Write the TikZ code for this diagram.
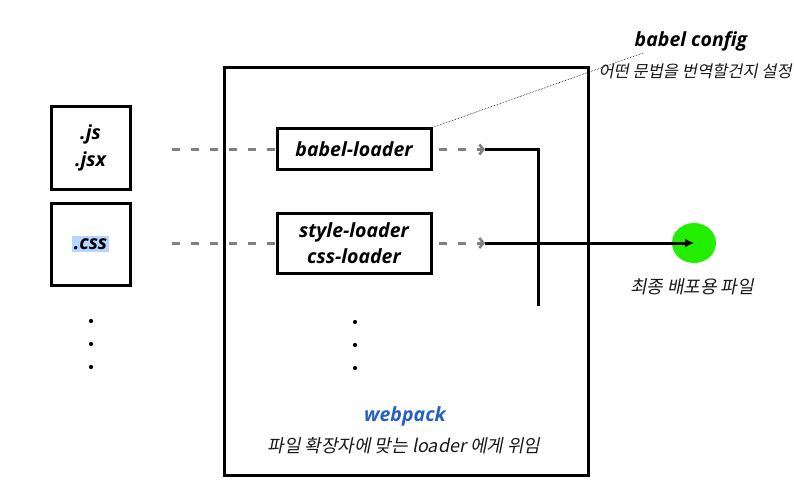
\documentclass[tikz,border=0pt]{standalone}
\usepackage{fontspec}
\setmainfont{Open Sans}
\newfontfamily\krfont[FakeSlant=0.2]{Noto Sans CJK KR}
\usetikzlibrary{arrows.meta,shapes.geometric}
\definecolor{dashgray}{RGB}{128,128,128}
\definecolor{hlblue}{RGB}{180,214,255}
\definecolor{wpblue}{RGB}{38,96,196}
\definecolor{finalgreen}{RGB}{34,238,0}
\newcommand\lblfont{\fontsize{19.5}{26}\selectfont\bfseries\itshape}
\begin{document}
\begin{tikzpicture}[x=1pt,y=-1pt,
  thickbox/.style={draw=black, line width=3pt, align=center, inner sep=0pt, font=\lblfont},
  gdash/.style={draw=dashgray, line width=3pt, dash pattern=on 8pt off 11pt},
  gtip/.style={-{Straight Barb[length=4pt,width=10pt,line width=2.6pt]}},
  blk/.style={draw=black, line width=3pt},
  dotpt/.style={circle, fill=black, inner sep=0pt, minimum size=4.2pt},
  krtext/.style={inner sep=0pt, text=black!90}
]
\useasboundingbox (0,0) rectangle (794,481);

% webpack container
\node[thickbox, minimum width=364pt, minimum height=407pt] (webpack) at (406,271.5) {};

% file boxes
\node[thickbox, minimum width=79pt, minimum height=82pt] (js) at (90.5,148) {.js\\[1pt].jsx};
\node[thickbox, minimum width=79pt, minimum height=82pt] (css) at (90.5,244) {};
\node[fill=hlblue, inner xsep=1.5pt, inner ysep=2.5pt, font=\lblfont] (csstext) at (90.5,244) {.css};

% file dots
\node[dotpt] (fd1) at (91,321) {};
\node[dotpt] (fd2) at (91,344) {};
\node[dotpt] (fd3) at (91,367) {};

% loaders
\node[thickbox, minimum width=154pt, minimum height=41pt] (babel) at (354,149.5) {babel-loader};
\node[thickbox, minimum width=154pt, minimum height=60pt] (style) at (354,243) {style-loader\\css-loader};

% loader dots
\node[dotpt] (ld1) at (355,322) {};
\node[dotpt] (ld2) at (355,345) {};
\node[dotpt] (ld3) at (355,368) {};

% dashed input connectors
\draw[gdash] ([xshift=40pt]js.east |- babel.west) -- (babel.west);
\draw[gdash] ([xshift=40pt]css.east |- style.west) -- (style.west);

% dashed output connectors
\coordinate (o1) at (485,149.5);
\coordinate (o2) at (485,243);
\draw[gdash, gtip] ([xshift=6pt]babel.east) -- (o1);
\draw[gdash, gtip] ([xshift=6pt]style.east) -- (o2);

% merge lines
\coordinate (m1) at (538,149.5);
\coordinate (m2) at (538,306);
\draw[blk] (o1) -- (m1) -- (m2);

% final output
\node[ellipse, fill=finalgreen, minimum width=44pt, minimum height=40pt, inner sep=0pt] (final) at (694,243) {};
\draw[blk, -{Latex[length=9pt,width=9pt]}] (o2) -- (final.center);
\node[krtext, font=\krfont\fontsize{18}{22}\selectfont] (finallbl) at (692,287) {최종 배포용 파일};

% babel config note
\node[font=\lblfont, inner sep=0pt] (cfg) at (691,41) {babel config};
\node[krtext, anchor=east, font=\krfont\fontsize{16.5}{20}\selectfont] (cfgdesc) at (792,71) {어떤 문법을 번역할건지 설정};
\coordinate (cfgpt) at (643,53);
\draw[densely dotted, line width=0.6pt] (babel.north east) -- (cfgpt);

% webpack labels
\node[font=\lblfont, text=wpblue, inner sep=0pt] (wplbl) at (405,416) {webpack};
\node[krtext, font=\krfont\fontsize{18}{22}\selectfont] (wpdesc) at (404,446) {파일 확장자에 맞는 loader 에게 위임};
\end{tikzpicture}
\end{document}
